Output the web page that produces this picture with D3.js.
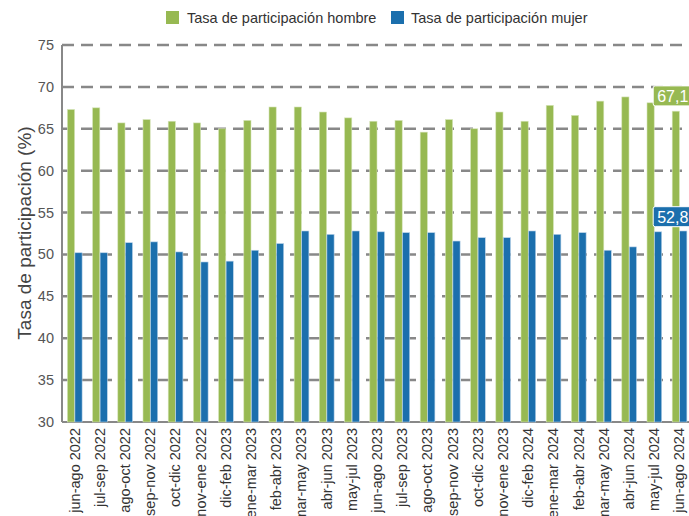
<!DOCTYPE html><html><head><meta charset="utf-8"><script src="https://cdn.jsdelivr.net/npm/d3@7"></script>
<style>body{margin:0;background:#fff}text{font-family:Arial,"Liberation Sans",sans-serif}</style></head><body><svg id="c" width="689" height="516"></svg>
<script>
const categories=["jun-ago 2022","jul-sep 2022","ago-oct 2022","sep-nov 2022","oct-dic 2022","nov-ene 2022","dic-feb 2023","ene-mar 2023","feb-abr 2023","mar-may 2023","abr-jun 2023","may-jul 2023","jun-ago 2023","jul-sep 2023","ago-oct 2023","sep-nov 2023","oct-dic 2023","nov-ene 2023","dic-feb 2024","ene-mar 2024","feb-abr 2024","mar-may 2024","abr-jun 2024","may-jul 2024","jun-ago 2024"];
const hombre=[67.3,67.5,65.7,66.1,65.9,65.7,65.0,66.0,67.6,67.6,67.0,66.3,65.9,66.0,64.6,66.1,65.0,67.0,65.9,67.8,66.6,68.3,68.8,68.1,67.1];
const mujer=[50.2,50.2,51.4,51.5,50.3,49.1,49.2,50.5,51.3,52.8,52.4,52.8,52.7,52.6,52.6,51.6,52.0,52.0,52.8,52.4,52.6,50.5,50.9,52.7,52.8];
const yTicks=[30,35,40,45,50,55,60,65,70,75];
const svg=d3.select("#c");
const L=62,R=692,T=45,B=422;
const x=d3.scaleBand().domain(categories).range([L,R]);
const y=d3.scaleLinear().domain([30,75]).range([B,T]);
const green="#97b952",blue="#1b6fad";
svg.append("g").selectAll("line").data(yTicks.slice(1)).join("line").attr("x1",L).attr("x2",689).attr("y1",d=>y(d)).attr("y2",d=>y(d)).attr("stroke","#888").attr("stroke-width",2.5).attr("stroke-dasharray","12,7");
svg.append("line").attr("x1",L).attr("x2",689).attr("y1",B).attr("y2",B).attr("stroke","#888").attr("stroke-width",2);
svg.append("line").attr("x1",L).attr("x2",L).attr("y1",T).attr("y2",B).attr("stroke","#888").attr("stroke-width",2);
const bw=7.2;
const g=svg.append("g");
g.selectAll(".h").data(hombre).join("rect").attr("x",(d,i)=>x(categories[i])+x.bandwidth()/2-bw).attr("width",bw).attr("y",d=>y(d)).attr("height",d=>B-y(d)).attr("fill",green).attr("stroke","#d5e4b8").attr("stroke-width",0.6);
g.selectAll(".m").data(mujer).join("rect").attr("x",(d,i)=>x(categories[i])+x.bandwidth()/2+0.3).attr("width",bw).attr("y",d=>y(d)).attr("height",d=>B-y(d)).attr("fill",blue).attr("stroke","#b9d2e8").attr("stroke-width",0.6);
svg.append("g").selectAll("text").data(yTicks).join("text").attr("x",54).attr("y",d=>y(d)+5).attr("text-anchor","end").attr("font-size",14.5).attr("fill","#555").text(d=>d);
svg.append("g").selectAll("text").data(categories).join("text").attr("transform",d=>`translate(${x(d)+x.bandwidth()/2+5},428) rotate(-90)`).attr("text-anchor","end").attr("font-size",14.5).attr("fill","#333").text(d=>d);
svg.append("text").attr("transform","translate(31,233) rotate(-90)").attr("text-anchor","middle").attr("font-size",19).attr("fill","#444").text("Tasa de participación (%)");
svg.append("rect").attr("x",166).attr("y",11).attr("width",13).attr("height",13).attr("fill",green);
svg.append("text").attr("x",187).attr("y",23).attr("font-size",14.5).attr("fill","#333").text("Tasa de participación hombre");
svg.append("rect").attr("x",391).attr("y",11).attr("width",13).attr("height",13).attr("fill",blue);
svg.append("text").attr("x",411).attr("y",23).attr("font-size",14.5).attr("fill","#333").text("Tasa de participación mujer");
const last=categories.length-1;
const lx=x(categories[last-1])+x.bandwidth()/2-1;
[[hombre[last],green,y(70)-1],[mujer[last],blue,y(55.7)]].forEach(([v,c,ty])=>{
 svg.append("rect").attr("x",lx).attr("y",ty).attr("width",50).attr("height",20).attr("rx",2).attr("fill",c).attr("stroke","#fff");
 svg.append("text").attr("x",lx+4).attr("y",ty+16).attr("font-size",16).attr("fill","#fff").text(String(v.toFixed(1)).replace(".",","));
});
</script></body></html>
